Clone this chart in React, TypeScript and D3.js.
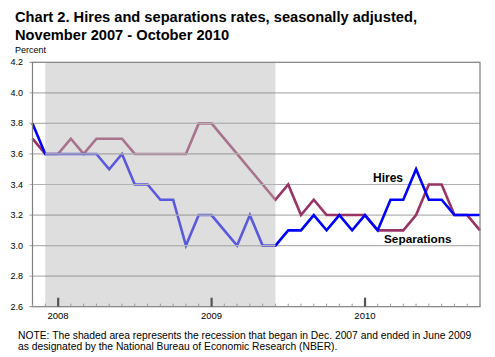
import React from "react";
import * as d3 from "d3";

const months = [
  "Nov 2007","Dec 2007",
  "Jan 2008","Feb 2008","Mar 2008","Apr 2008","May 2008","Jun 2008","Jul 2008","Aug 2008","Sep 2008","Oct 2008","Nov 2008","Dec 2008",
  "Jan 2009","Feb 2009","Mar 2009","Apr 2009","May 2009","Jun 2009","Jul 2009","Aug 2009","Sep 2009","Oct 2009","Nov 2009","Dec 2009",
  "Jan 2010","Feb 2010","Mar 2010","Apr 2010","May 2010","Jun 2010","Jul 2010","Aug 2010","Sep 2010","Oct 2010",
];
const hires = [
  3.8, 3.6,
  3.6, 3.6, 3.6, 3.6, 3.5, 3.6, 3.4, 3.4, 3.3, 3.3, 3.0, 3.2,
  3.2, 3.1, 3.0, 3.2, 3.0, 3.0, 3.1, 3.1, 3.2, 3.1, 3.2, 3.1,
  3.2, 3.1, 3.3, 3.3, 3.5, 3.3, 3.3, 3.2, 3.2, 3.2,
];
const separations = [
  3.7, 3.6,
  3.6, 3.7, 3.6, 3.7, 3.7, 3.7, 3.6, 3.6, 3.6, 3.6, 3.6, 3.8,
  3.8, 3.7, 3.6, 3.5, 3.4, 3.3, 3.4, 3.2, 3.3, 3.2, 3.2, 3.2,
  3.2, 3.1, 3.1, 3.1, 3.2, 3.4, 3.4, 3.2, 3.2, 3.1,
];
const yTicks = [2.6, 2.8, 3.0, 3.2, 3.4, 3.6, 3.8, 4.0, 4.2];
const yearLabels = ["2008", "2009", "2010"];
const recessionStart = "Dec 2007";
const recessionEnd = "Jun 2009";

const FONT = "'Liberation Sans', Arial, sans-serif";

export default function App() {
  const left = 32.5, right = 480, top = 62.3, bottom = 306.7;
  const x = d3.scaleLinear().domain([0, months.length - 1]).range([left, right]);
  const y = d3.scaleLinear().domain([2.6, 4.2]).range([bottom, top]);
  const line = d3.line<number>().x((_, i) => x(i)).y((d) => y(d));
  const s0 = x(months.indexOf(recessionStart));
  const s1 = x(months.indexOf(recessionEnd));
  const grid = "#b2b2b2";

  return (
    <svg width={495} height={357} style={{ position: "absolute", left: 0, top: 0, background: "#fff" }}>
      <text x={15} y={22} fontFamily={FONT} fontWeight="bold" fontSize={14.65} fill="#000">
        Chart 2. Hires and separations rates, seasonally adjusted,
      </text>
      <text x={15} y={39.5} fontFamily={FONT} fontWeight="bold" fontSize={14.65} fill="#000">
        November 2007 - October 2010
      </text>
      <text x={15} y={53} fontFamily={FONT} fontSize={9} fill="#000">Percent</text>

      {yTicks.filter((t) => t > 2.6 && t < 4.2).map((t) => (
        <line key={"g" + t} x1={left - 3} x2={right} y1={y(t)} y2={y(t)} stroke={grid} strokeWidth={1.2} />
      ))}

      <path d={line(separations) || ""} fill="none" stroke="#993366" strokeWidth={2.6} strokeLinejoin="miter" />
      <path d={line(hires) || ""} fill="none" stroke="#0000ff" strokeWidth={2.6} strokeLinejoin="miter" />

      <rect x={s0} y={top} width={s1 - s0} height={bottom - top} fill="rgb(187,187,187)" fillOpacity={0.48} />
      {yTicks.filter((t) => t > 2.6 && t < 4.2).map((t) => (
        <line key={"gs" + t} x1={s0} x2={s1} y1={y(t)} y2={y(t)} stroke={grid} strokeWidth={1.2} />
      ))}

      <rect x={left} y={top} width={right - left} height={bottom - top} fill="none" stroke="#808080" strokeWidth={1.2} />
      <line x1={left - 3} x2={left} y1={top} y2={top} stroke="#808080" />
      <line x1={left - 3} x2={left} y1={bottom} y2={bottom} stroke="#808080" />

      {months.map((m, i) => (
        <line key={"mt" + i} x1={x(i)} x2={x(i)} y1={bottom} y2={bottom - 3} stroke="#999" strokeWidth={1} />
      ))}
      {yearLabels.map((yr) => {
        const i = months.indexOf("Jan " + yr);
        return (
          <g key={yr}>
            <rect x={x(i) - 1} y={bottom - 9} width={2.2} height={9} fill="#555" />
            <text x={x(i)} y={318.5} textAnchor="middle" fontFamily={FONT} fontSize={9.5} fill="#000">{yr}</text>
          </g>
        );
      })}

      {yTicks.map((t) => (
        <text key={"yl" + t} x={23} y={y(t) + 3} textAnchor="end" fontFamily={FONT} fontSize={9} fill="#000">
          {t.toFixed(1)}
        </text>
      ))}

      <text x={373} y={181.5} fontFamily={FONT} fontWeight="bold" fontSize={12} fill="#000">Hires</text>
      <text x={384} y={242.5} fontFamily={FONT} fontWeight="bold" fontSize={11.8} fill="#000">Separations</text>

      <text x={18} y={338.5} fontFamily={FONT} fontSize={10.3} fill="#000">
        NOTE: The shaded area represents the recession that began in Dec. 2007 and ended in June 2009
      </text>
      <text x={18} y={349.5} fontFamily={FONT} fontSize={10.3} fill="#000">
        as designated by the National Bureau of Economic Research (NBER).
      </text>
    </svg>
  );
}
